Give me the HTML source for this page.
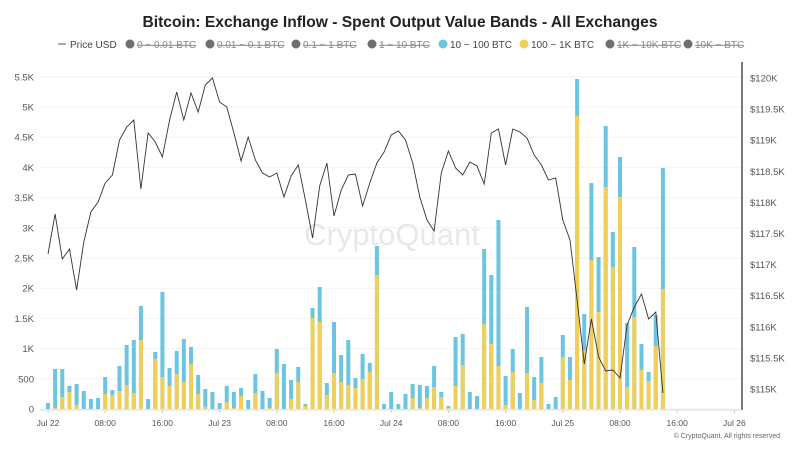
<!DOCTYPE html>
<html><head><meta charset="utf-8"><style>
body{margin:0;background:#fff;}
svg{display:block;font-family:"Liberation Sans",sans-serif;}
</style></head><body>
<svg id="s" width="800" height="450" xmlns="http://www.w3.org/2000/svg">
<rect width="800" height="450" fill="#fff"/>
<text x="400" y="27" text-anchor="middle" font-size="16" font-weight="bold" fill="#222" textLength="515" lengthAdjust="spacingAndGlyphs">Bitcoin: Exchange Inflow - Spent Output Value Bands - All Exchanges</text>
<g font-size="10" fill="#444">
<line x1="58" y1="44" x2="66" y2="44" stroke="#555"/><text x="70" y="48">Price USD</text>
<circle cx="130" cy="44" r="4.5" fill="#6e6e76"/><text x="137" y="48" text-decoration="line-through" fill="#888">0 ~ 0.01 BTC</text>
<circle cx="210" cy="44" r="4.5" fill="#6e6e76"/><text x="217" y="48" text-decoration="line-through" fill="#888">0.01 ~ 0.1 BTC</text>
<circle cx="296" cy="44" r="4.5" fill="#6e6e76"/><text x="303" y="48" text-decoration="line-through" fill="#888">0.1 ~ 1 BTC</text>
<circle cx="372" cy="44" r="4.5" fill="#6e6e76"/><text x="379" y="48" text-decoration="line-through" fill="#888">1 ~ 10 BTC</text>
<circle cx="443" cy="44" r="4.5" fill="#6cc5e0"/><text x="450" y="48">10 ~ 100 BTC</text>
<circle cx="524" cy="44" r="4.5" fill="#efcf5a"/><text x="531" y="48">100 ~ 1K BTC</text>
<circle cx="610" cy="44" r="4.5" fill="#6e6e76"/><text x="617" y="48" text-decoration="line-through" fill="#888">1K ~ 10K BTC</text>
<circle cx="688" cy="44" r="4.5" fill="#6e6e76"/><text x="695" y="48" text-decoration="line-through" fill="#888">10K ~ BTC</text>
</g>
<g id="grid"></g>
<text x="392" y="245" text-anchor="middle" font-size="31" fill="#e8e8ec">CryptoQuant</text>
<g id="bars"></g>
<polyline id="price" fill="none" stroke="#333" stroke-width="0.9"/>
<line x1="742" y1="62" x2="742" y2="410" stroke="#222" stroke-width="1.2"/>
<line x1="40" y1="410" x2="742" y2="410" stroke="#ddd"/>
<g id="lbl" font-size="9.5" fill="#555"></g>
<text x="780" y="438" text-anchor="end" font-size="7" fill="#666">© CryptoQuant. All rights reserved</text>
</svg>
<script>
var T=[403,369,369,386,384,391,399,398,377,390,366,345,340,306,399,352,292,368,351,339,347,375,389,392,403,386,392,388,400,374,391,398,349,364,380,367,404,308,287,383,322,355,340,378,354,363,246,404,392,404,394,384,385,386,366,392,406,337,334,392,396,249,275,220,376,349,393,307,377,357,404,397,335,357,79,314,183,257,126,232,157,323,247,344,372,315,168];
var Y=[409,408,397,392,405,409,409,409,394,395,391,385,393,340,409,359,377,386,374,382,364,394,407,409,409,402,408,396,409,393,409,408,373,409,399,382,406,318,322,395,373,382,385,388,379,372,275,409,409,409,409,398,408,398,387,397,408,386,365,409,409,324,344,366,405,372,409,373,400,383,409,409,357,380,116,350,260,312,187,267,197,387,317,370,381,346,289];
var P=[254,214,259,249,290,242,212,202,183,175,140,127,120,189,133,142,157,120,92,120,93,112,85,78,102,107,133,161,137,160,173,177,173,197,176,165,200,238,186,163,216,190,175,174,206,183,163,152,135,131,140,163,197,220,231,173,151,168,175,162,166,184,133,129,165,129,132,138,155,165,180,178,220,240,300,364,319,357,371,370,378,325,307,294,319,312,393];
var ns="http://www.w3.org/2000/svg";
function el(t,a,p){var e=document.createElementNS(ns,t);for(var k in a)e.setAttribute(k,a[k]);if(p)p.appendChild(e);return e;}
var g=document.getElementById('grid'),b=document.getElementById('bars'),l=document.getElementById('lbl');
var lt=['0','500','1K','1.5K','2K','2.5K','3K','3.5K','4K','4.5K','5K','5.5K'];
for(var i=0;i<12;i++){var y=409-30.2*i;el('line',{x1:40,x2:742,y1:y,y2:y,stroke:'#f2f2f2'},g);var t=el('text',{x:34,y:y+3.5,'text-anchor':'end'},l);t.textContent=lt[i];}
for(var i=0;i<11;i++){var y=389-31.1*i;var v=115+0.5*i;var s='$'+(v%1?v.toFixed(1):v)+'K';var t=el('text',{x:750,y:y+3.5},l);t.textContent=s;}
var xl=['Jul 22','08:00','16:00','Jul 23','08:00','16:00','Jul 24','08:00','16:00','Jul 25','08:00','16:00','Jul 26'];
for(var i=0;i<13;i++){var x=48+57.2*i;var t=el('text',{x:x,y:426,'text-anchor':'middle','font-size':8.5},l);t.textContent=xl[i];el('line',{x1:x,x2:x,y1:410,y2:413,stroke:'#ccc'},l);}
var pts=[];
for(var i=0;i<T.length;i++){var x=48+7.15*i;
el('rect',{x:x-2,y:T[i],width:4,height:409-T[i],fill:'#6cc5e0'},b);
if(Y[i]<409)el('rect',{x:x-2,y:Y[i],width:4,height:409-Y[i],fill:'#efcf5a'},b);
pts.push(x.toFixed(1)+','+P[i]);}
document.getElementById('price').setAttribute('points',pts.join(' '));
</script>
</body></html>
